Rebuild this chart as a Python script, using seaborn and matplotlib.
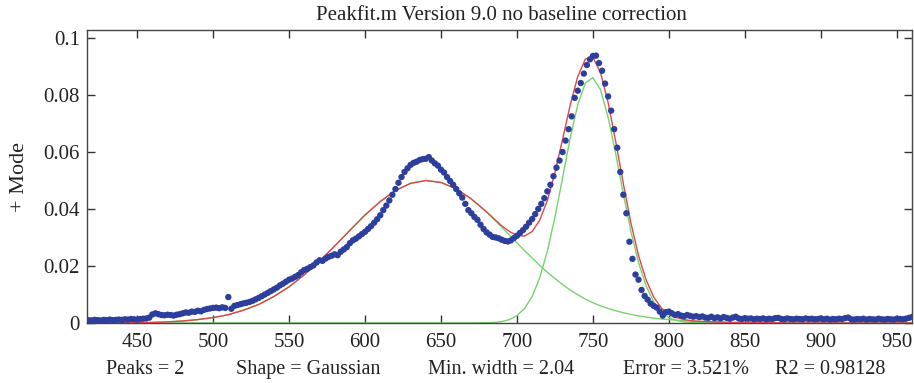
import numpy as np
import pandas as pd
import matplotlib
matplotlib.use("Agg")
import matplotlib.pyplot as plt
import seaborn as sns

# ---------------- data ----------------
TITLE = "Peakfit.m Version 9.0 no baseline correction"
YLABEL = "+ Mode"
XTICKS = [450, 500, 550, 600, 650, 700, 750, 800, 850, 900, 950]
YTICKS = [0, 0.02, 0.04, 0.06, 0.08, 0.1]
YTICKLABELS = ["0", "0.02", "0.04", "0.06", "0.08", "0.1"]
FOOTER = ["Peaks = 2", "Shape = Gaussian", "Min. width = 2.04",
          "Error = 3.521%", "R2 = 0.98128"]

# measured points (wavelength grid 418..960 step 2)
data_x = list(range(418, 961, 2))
data_y = [
    0.0010, 0.0009, 0.0011, 0.0010, 0.0009, 0.0011, 0.0010, 0.0012, 0.0010, 0.0011,
    0.0012, 0.0011, 0.0013, 0.0012, 0.0014, 0.0013, 0.0012, 0.0014, 0.0015, 0.0016,
    0.0019, 0.0030, 0.0034, 0.0031, 0.0028, 0.0027, 0.0029, 0.0028, 0.0026, 0.0029,
    0.0031, 0.0034, 0.0037, 0.0036, 0.0040, 0.0039, 0.0043, 0.0041, 0.0046, 0.0049,
    0.0051, 0.0053, 0.0054, 0.0052, 0.0055, 0.0053, 0.0091, 0.0050, 0.0060, 0.0063,
    0.0066, 0.0069, 0.0071, 0.0074, 0.0078, 0.0083, 0.0088, 0.0094, 0.0100, 0.0106,
    0.0112, 0.0118, 0.0124, 0.0132, 0.0138, 0.0145, 0.0152, 0.0156, 0.0162, 0.0168,
    0.0178, 0.0186, 0.0190, 0.0196, 0.0202, 0.0212, 0.0220, 0.0218, 0.0226, 0.0232,
    0.0236, 0.0241, 0.0238, 0.0250, 0.0258, 0.0266, 0.0280, 0.0290, 0.0296, 0.0304,
    0.0312, 0.0320, 0.0330, 0.0340, 0.0352, 0.0364, 0.0378, 0.0396, 0.0412, 0.0430,
    0.0450, 0.0470, 0.0492, 0.0512, 0.0530, 0.0543, 0.0555, 0.0562, 0.0566, 0.0572,
    0.0575, 0.0576, 0.0582, 0.0570, 0.0560, 0.0552, 0.0538, 0.0528, 0.0512, 0.0498,
    0.0485, 0.0470, 0.0455, 0.0440, 0.0418, 0.0396, 0.0385, 0.0372, 0.0362, 0.0345,
    0.0330, 0.0318, 0.0310, 0.0302, 0.0300, 0.0297, 0.0292, 0.0288, 0.0286, 0.0290,
    0.0298, 0.0306, 0.0316, 0.0326, 0.0338, 0.0352, 0.0365, 0.0382, 0.0400, 0.0418,
    0.0438, 0.0462, 0.0485, 0.0515, 0.0545, 0.0570, 0.0600, 0.0640, 0.0680, 0.0725,
    0.0790, 0.0815, 0.0842, 0.0875, 0.0905, 0.0925, 0.0937, 0.0938, 0.0912, 0.0885,
    0.0840, 0.0795, 0.0745, 0.0680, 0.0615, 0.0530, 0.0450, 0.0385, 0.0285, 0.0225,
    0.0170, 0.0152, 0.0116, 0.0095, 0.0082, 0.0068, 0.0060, 0.0054, 0.0040, 0.0026,
    0.0038, 0.0040, 0.0034, 0.0028, 0.0031, 0.0026, 0.0024, 0.0028, 0.0025, 0.0022,
    0.0024, 0.0021, 0.0023, 0.0019, 0.0018, 0.0022, 0.0017, 0.0020, 0.0016, 0.0021,
    0.0018, 0.0015, 0.0019, 0.0022, 0.0016, 0.0014, 0.0017, 0.0015, 0.0016, 0.0013,
    0.0015, 0.0014, 0.0016, 0.0013, 0.0015, 0.0014, 0.0017, 0.0018, 0.0014, 0.0013,
    0.0016, 0.0014, 0.0013, 0.0015, 0.0014, 0.0013, 0.0016, 0.0014, 0.0015, 0.0013,
    0.0014, 0.0016, 0.0013, 0.0015, 0.0012, 0.0014, 0.0013, 0.0015, 0.0014, 0.0017,
    0.0019, 0.0013, 0.0012, 0.0014, 0.0013, 0.0015, 0.0012, 0.0014, 0.0013, 0.0012,
    0.0015, 0.0013, 0.0012, 0.0014, 0.0013, 0.0012, 0.0015, 0.0014, 0.0013, 0.0015,
    0.0018, 0.0021,
]

# fitted component curves
fit_x = [417, 430, 440, 450, 460, 470, 480, 490, 500, 510, 520, 530, 540, 550,
         560, 570, 580, 590, 600, 610, 620, 630, 640, 650, 660, 670, 680, 685,
         690, 695, 700, 705, 710, 715, 720, 725, 730, 735, 740, 745, 750, 755,
         760, 765, 770, 775, 780, 785, 790, 795, 800, 805, 810, 815, 820, 840,
         860, 880, 900, 920, 940, 960]
peak1 = [0.0000, 0.0000, 0.0001, 0.0001, 0.0002, 0.0004, 0.0007, 0.0012, 0.0019,
         0.0029, 0.0045, 0.0065, 0.0093, 0.0127, 0.0169, 0.0217, 0.0270, 0.0325,
         0.0379, 0.0426, 0.0465, 0.0490, 0.0500, 0.0493, 0.0471, 0.0435, 0.0389,
         0.0363, 0.0336, 0.0309, 0.0281, 0.0254, 0.0228, 0.0202, 0.0178, 0.0156,
         0.0135, 0.0116, 0.0099, 0.0084, 0.0071, 0.0060, 0.0051, 0.0043, 0.0036,
         0.0030, 0.0025, 0.0021, 0.0017, 0.0014, 0.0012, 0.0010, 0.0008, 0.0006,
         0.0005, 0.0002, 0.0001, 0.0000, 0.0000, 0.0000, 0.0000, 0.0000]
peak2 = [0.0000, 0.0000, 0.0000, 0.0000, 0.0000, 0.0000, 0.0000, 0.0000, 0.0000,
         0.0000, 0.0000, 0.0000, 0.0000, 0.0000, 0.0000, 0.0000, 0.0000, 0.0000,
         0.0000, 0.0000, 0.0000, 0.0000, 0.0000, 0.0000, 0.0000, 0.0000, 0.0001,
         0.0002, 0.0005, 0.0012, 0.0026, 0.0051, 0.0093, 0.0159, 0.0252, 0.0372,
         0.0509, 0.0648, 0.0766, 0.0842, 0.0861, 0.0818, 0.0722, 0.0593, 0.0453,
         0.0321, 0.0212, 0.0130, 0.0074, 0.0039, 0.0019, 0.0009, 0.0004, 0.0002,
         0.0001, 0.0000, 0.0000, 0.0000, 0.0000, 0.0000, 0.0000, 0.0000]

assert len(data_x) == len(data_y)
assert len(fit_x) == len(peak1) == len(peak2)

df_pts = pd.DataFrame({"x": data_x, "y": data_y})
df_fit = pd.DataFrame({"x": fit_x, "p1": peak1, "p2": peak2})
df_fit["total"] = df_fit["p1"] + df_fit["p2"]

# ---------------- style ----------------
sns.set_theme(style="white")
plt.rcParams["font.family"] = ["Liberation Serif", "DejaVu Serif"]
FS_TICK = 15
FS_TITLE = 15
FS_FOOT = 14.5
FS_YLAB = 16

fig = plt.figure(figsize=(9.14, 3.83), dpi=100)
ax = fig.add_axes([87 / 914, 1 - 323 / 383, (912 - 87) / 914, (323 - 30) / 383])

GREEN = "#76d46c"
RED = "#e0454c"
BLUE = "#2c3f9d"

sns.lineplot(data=df_fit, x="x", y="p1", ax=ax, color=GREEN, lw=1.0,
             sort=False, estimator=None, zorder=2)
sns.lineplot(data=df_fit, x="x", y="p2", ax=ax, color=GREEN, lw=1.0,
             sort=False, estimator=None, zorder=2)
sns.lineplot(data=df_fit, x="x", y="total", ax=ax, color=RED, lw=1.0,
             sort=False, estimator=None, zorder=3)
sns.scatterplot(data=df_pts, x="x", y="y", ax=ax, color=BLUE, s=21,
                edgecolor="none", linewidth=0, zorder=4)

ax.set_xlim(417, 960)
ax.set_ylim(0, 0.1028)
ax.set_xticks(XTICKS)
ax.set_xticklabels([str(t) for t in XTICKS], fontsize=FS_TICK)
ax.set_yticks(YTICKS)
ax.set_yticklabels(YTICKLABELS, fontsize=FS_TICK)
ax.set_xlabel("")
ax.set_ylabel("")
ax.tick_params(direction="in", length=6, width=1, color="#333333",
               top=True, right=True, bottom=True, left=True,
               labelcolor="#222222")
ax.tick_params(axis="x", pad=7)
ax.tick_params(axis="y", pad=5)
for s in ax.spines.values():
    s.set_visible(True)
    s.set_color("#444444")
    s.set_linewidth(1.0)

fig.text(501 / 914, 1 - 15 / 383, TITLE, ha="center", va="center",
         fontsize=FS_TITLE, color="#222222")
fig.text(20 / 914, 1 - 177 / 383, YLABEL, ha="center", va="center",
         rotation=90, fontsize=FS_YLAB, color="#222222")

foot_x = [106, 236, 428, 623, 775]
for fx, txt in zip(foot_x, FOOTER):
    fig.text(fx / 914, 1 - 374 / 383, txt, ha="left", va="baseline",
             fontsize=FS_FOOT, color="#222222")

fig.savefig("out.png", dpi=100)
